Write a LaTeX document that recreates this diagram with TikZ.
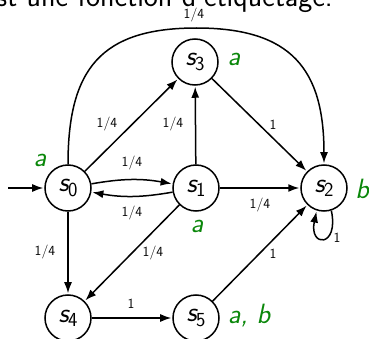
\documentclass[tikz,border=0pt]{standalone}
\usepackage{fontspec}
\usetikzlibrary{arrows.meta}
\definecolor{labgreen}{RGB}{10,135,10}
\newcommand\sname[1]{{\itshape s}\kern-0.02em\raisebox{-0.35ex}{\fontsize{20}{20}\selectfont #1}}
\begin{document}
\begin{tikzpicture}[x=1bp,y=1bp,
  state/.style={circle,draw,line width=1.5bp,minimum size=46bp,inner sep=0pt,font=\fontsize{28}{28}\selectfont\sffamily},
  lab/.style={text=labgreen,font=\fontsize{28}{28}\selectfont\sffamily\itshape},
  el/.style={font=\fontsize{14}{14}\selectfont\sffamily,inner sep=1bp},
  tr/.style={-{Latex[length=11bp,width=8bp]},line width=1.5bp,shorten >=1bp}]
\useasboundingbox (0,0) rectangle (369,339);
\clip (0,0) rectangle (369,339);
\node[anchor=base east,font=\fontsize{30}{30}\selectfont\sffamily,inner sep=0pt] (title) at (333,333) {est une fonction d'étiquetage.};
\node[state] (s0) at (68,151) {\sname0};
\node[state] (s1) at (196,151) {\sname1};
\node[state] (s2) at (324,151) {\sname2};
\node[state] (s3) at (195,277) {\sname3};
\node[state] (s4) at (68,21) {\sname4};
\node[state] (s5) at (196,21) {\sname5};
\node[lab] (l0) at (40,179) {a};
\node[lab] (l1) at (197,113) {a};
\node[lab] (l2) at (362,150) {b};
\node[lab] (l3) at (234,280) {a};
\node[lab] (l5) at (249,23) {a, b};
\coordinate (init) at (8,151);
\coordinate (top) at (196.5,311);
\draw[tr] (init) -- (s0);
\draw[tr] (s0.north) to[out=90,in=180,looseness=1.3] (top) to[out=0,in=90,looseness=1.3] (s2.north);
\draw[tr] (s0) to[bend left=10] (s1);
\draw[tr] (s1) to[bend left=10] (s0);
\draw[tr] (s0) -- (s3);
\draw[tr] (s1) -- (s3);
\draw[tr] (s3) -- (s2);
\draw[tr] (s1) -- (s2);
\draw[tr] (s0) -- (s4);
\draw[tr] (s1) -- (s4);
\draw[tr] (s4) -- (s5);
\draw[tr] (s5) -- (s2);
\draw[tr] (s2.-72) .. controls +(-78:38) and +(-102:38) .. (s2.-108);
\node[el] (e02) at (194,324) {1/4};
\node[el] (e03) at (107,215) {1/4};
\node[el] (e13) at (173,215) {1/4};
\node[el] (e32) at (273,214) {1};
\node[el] (e01) at (132,176) {1/4};
\node[el] (e10) at (132,126) {1/4};
\node[el] (e12) at (260,134) {1/4};
\node[el] (e04) at (45,87) {1/4};
\node[el] (e14) at (153,86) {1/4};
\node[el] (e52) at (273,85) {1};
\node[el] (e45) at (131,35) {1};
\node[el] (e22) at (337,101) {1};
\end{tikzpicture}
\end{document}
